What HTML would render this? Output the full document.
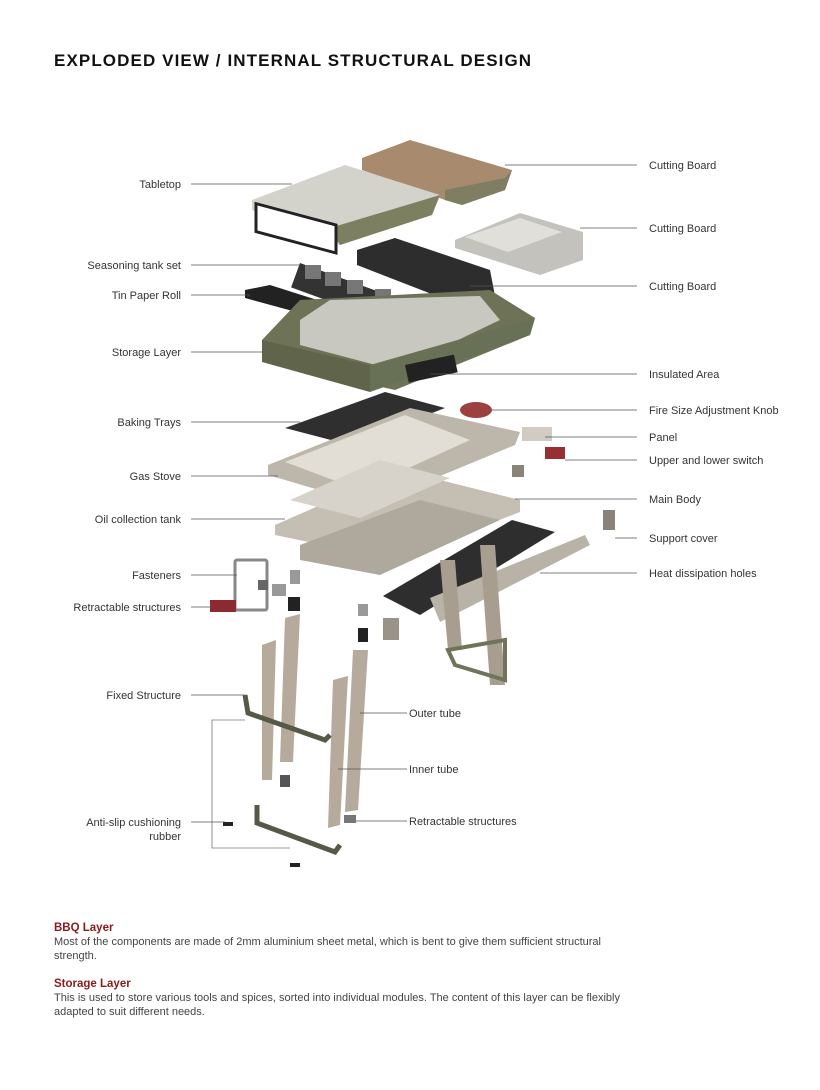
<!DOCTYPE html>
<html><head><meta charset="utf-8"><style>
body{margin:0;background:#fff;width:820px;height:1090px;overflow:hidden;font-family:"Liberation Sans",sans-serif;position:relative}
.t{position:absolute;left:54px;top:51px;font-size:17px;font-weight:bold;letter-spacing:1.1px;color:#111}
svg{position:absolute;left:0;top:0}
.l{font-size:11px;fill:#333}
.txt{position:absolute;left:54px;font-size:11px;color:#444;line-height:14px;width:592px}
.h{color:#8b1a1a;font-weight:bold;font-size:11.5px}
</style></head><body>
<div class="t">EXPLODED VIEW / INTERNAL STRUCTURAL DESIGN</div>
<svg width="820" height="1090" viewBox="0 0 820 1090">
<polygon points="362,158 410,140 512,170 505,190 462,205 445,200 362,170" fill="#a88a6e"/>
<polygon points="445,190 505,178 512,170 505,190 462,205 445,200" fill="#7f7d62"/>
<polygon points="252,200 345,165 440,195 432,215 340,245 252,210" fill="#d3d3cc"/>
<polygon points="330,228 440,195 432,215 340,245" fill="#7c8060"/>
<rect x="256" y="205" width="80" height="28" fill="#fff" stroke="#222" stroke-width="3" transform="skewY(15) translate(0,-70)"/>
<polygon points="455,240 520,213 583,232 583,260 540,275 455,248" fill="#c4c2bc"/>
<polygon points="465,237 520,218 562,232 508,252" fill="#e0dfda"/>
<polygon points="357,250 395,238 490,270 495,296 460,305 357,265" fill="#2d2d2d"/>
<rect x="300" y="263" width="110" height="26" fill="#333" transform="rotate(20 300 263)"/>
<rect x="305" y="265" width="16" height="14" fill="#777"/><rect x="325" y="272" width="16" height="14" fill="#777"/><rect x="347" y="280" width="16" height="14" fill="#777"/><rect x="375" y="289" width="16" height="14" fill="#777"/>
<polygon points="245,290 270,285 380,320 370,332 245,298" fill="#222"/>
<polygon points="262,340 300,300 490,290 535,318 530,335 395,390 262,360" fill="#6e7358"/>
<polygon points="300,320 330,300 480,296 500,320 395,370 300,345" fill="#c9c8c0"/>
<polygon points="262,340 370,365 370,392 262,362" fill="#5f644b"/>
<polygon points="370,365 535,318 530,335 370,392" fill="#687055"/>
<rect x="405" y="365" width="50" height="18" fill="#222" transform="rotate(-12 405 365)"/>
<polygon points="285,428 385,392 445,408 350,445" fill="#2f2f2f"/>
<ellipse cx="476" cy="410" rx="16" ry="8" fill="#9c4040"/>
<polygon points="268,465 410,408 520,432 515,445 370,505 268,475" fill="#bdb6aa"/>
<polygon points="285,462 405,415 470,440 360,490" fill="#e3ded5"/>
<polygon points="275,525 400,470 520,500 520,512 395,560 275,535" fill="#c5beb2"/>
<polygon points="290,500 380,460 450,478 360,518" fill="#d8d3ca"/>
<polygon points="300,545 420,500 500,520 380,575 300,560" fill="#aea89d"/>
<polygon points="383,596 512,520 555,532 420,615" fill="#2e2e2e"/>
<polygon points="430,598 585,535 590,545 440,622" fill="#b9b2a6"/>
<polygon points="440,560 455,560 462,650 448,650" fill="#a79e90"/>
<polygon points="480,545 495,545 505,685 490,685" fill="#a79e90"/>
<polygon points="448,650 505,640 505,680 455,665" fill="none" stroke="#6f745a" stroke-width="4"/>
<rect x="522" y="427" width="30" height="14" fill="#d1cbc2"/><rect x="545" y="447" width="20" height="12" fill="#9a2f33"/>
<rect x="512" y="465" width="12" height="12" fill="#8a8478"/><rect x="603" y="510" width="12" height="20" fill="#8a8478"/>
<rect x="235" y="560" width="32" height="50" fill="none" stroke="#888" stroke-width="3" rx="2"/>
<rect x="210" y="600" width="26" height="12" fill="#8b2a30"/>
<rect x="258" y="580" width="10" height="10" fill="#666"/><rect x="272" y="584" width="14" height="12" fill="#999"/>
<rect x="290" y="570" width="10" height="14" fill="#999"/><rect x="288" y="597" width="12" height="14" fill="#222"/>
<rect x="358" y="604" width="10" height="12" fill="#999"/><rect x="358" y="628" width="10" height="14" fill="#222"/>
<rect x="383" y="618" width="16" height="22" fill="#9a9488"/>
<polygon points="285,618 300,614 293,762 280,762" fill="#b6aa9c"/>
<polygon points="262,645 276,640 272,780 262,780" fill="#b6aa9c"/>
<polygon points="353,650 368,650 358,810 345,812" fill="#b6aa9c"/>
<polygon points="333,680 348,676 340,825 328,828" fill="#b6aa9c"/>
<path d="M245 695 L248 713 L325 740 L330 735" fill="none" stroke="#555a48" stroke-width="5"/>
<path d="M257 805 L257 823 L335 852 L340 845" fill="none" stroke="#555a48" stroke-width="5"/>
<rect x="223" y="822" width="10" height="4" fill="#222"/><rect x="290" y="863" width="10" height="4" fill="#222"/>
<rect x="344" y="815" width="12" height="8" fill="#777"/><rect x="280" y="775" width="10" height="12" fill="#555"/>
<polyline points="245,720 212,720 212,848 290,848" fill="none" stroke="#777" stroke-width="0.8"/>
<g stroke="#555" stroke-width="0.8">
<line x1="191" y1="184" x2="292" y2="184"/><line x1="191" y1="265" x2="300" y2="265"/><line x1="191" y1="295" x2="250" y2="295"/>
<line x1="191" y1="352" x2="265" y2="352"/><line x1="191" y1="422" x2="300" y2="422"/><line x1="191" y1="476" x2="278" y2="476"/>
<line x1="191" y1="519" x2="285" y2="519"/><line x1="191" y1="575" x2="237" y2="575"/><line x1="191" y1="607" x2="212" y2="607"/>
<line x1="191" y1="695" x2="245" y2="695"/><line x1="191" y1="822" x2="225" y2="822"/>
<line x1="505" y1="165" x2="637" y2="165"/><line x1="580" y1="228" x2="637" y2="228"/><line x1="470" y1="286" x2="637" y2="286"/>
<line x1="430" y1="374" x2="637" y2="374"/><line x1="490" y1="410" x2="637" y2="410"/><line x1="545" y1="437" x2="637" y2="437"/>
<line x1="565" y1="460" x2="637" y2="460"/><line x1="515" y1="499" x2="637" y2="499"/><line x1="615" y1="538" x2="637" y2="538"/>
<line x1="540" y1="573" x2="637" y2="573"/>
<line x1="360" y1="713" x2="407" y2="713"/><line x1="338" y1="769" x2="407" y2="769"/><line x1="356" y1="821" x2="407" y2="821"/>
</g>
<g class="l" text-anchor="end">
<text x="181" y="188">Tabletop</text><text x="181" y="269">Seasoning tank set</text><text x="181" y="299">Tin Paper Roll</text>
<text x="181" y="356">Storage Layer</text><text x="181" y="426">Baking Trays</text><text x="181" y="480">Gas Stove</text>
<text x="181" y="523">Oil collection tank</text><text x="181" y="579">Fasteners</text><text x="181" y="611">Retractable structures</text>
<text x="181" y="699">Fixed Structure</text><text x="181" y="826">Anti-slip cushioning</text><text x="181" y="840">rubber</text>
</g>
<g class="l">
<text x="649" y="169">Cutting Board</text><text x="649" y="232">Cutting Board</text><text x="649" y="290">Cutting Board</text>
<text x="649" y="378">Insulated Area</text><text x="649" y="414">Fire Size Adjustment Knob</text><text x="649" y="441">Panel</text>
<text x="649" y="464">Upper and lower switch</text><text x="649" y="503">Main Body</text><text x="649" y="542">Support cover</text>
<text x="649" y="577">Heat dissipation holes</text>
<text x="409" y="717">Outer tube</text><text x="409" y="773">Inner tube</text><text x="409" y="825">Retractable structures</text>
</g>
</svg>
<div class="txt" style="top:921px"><div class="h">BBQ Layer</div>Most of the components are made of 2mm aluminium sheet metal, which is bent to give them sufficient structural strength.</div>
<div class="txt" style="top:977px"><div class="h">Storage Layer</div>This is used to store various tools and spices, sorted into individual modules. The content of this layer can be flexibly adapted to suit different needs.</div>
</body></html>
